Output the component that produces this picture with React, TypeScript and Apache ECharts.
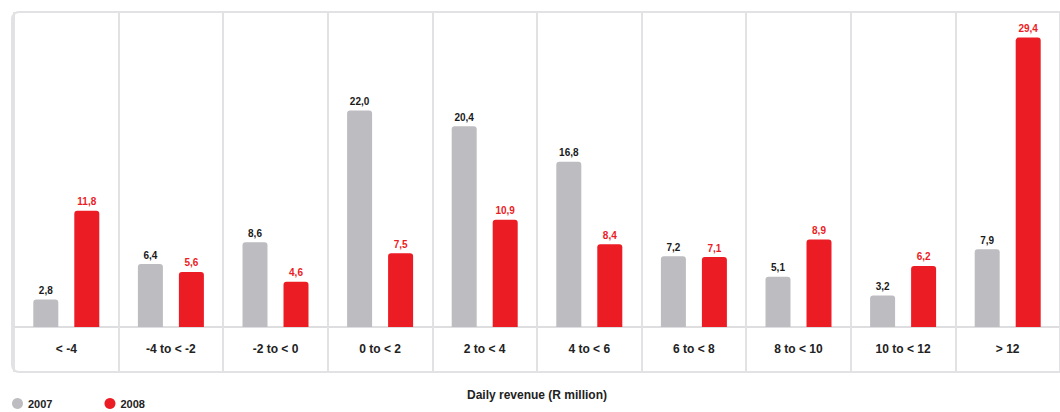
import React, { useEffect, useRef } from "react";
import * as echarts from "echarts";

const categories = ["< -4", "-4 to < -2", "-2 to < 0", "0 to < 2", "2 to < 4", "4 to < 6", "6 to < 8", "8 to < 10", "10 to < 12", "> 12"];
const values2007 = [2.8, 6.4, 8.6, 22.0, 20.4, 16.8, 7.2, 5.1, 3.2, 7.9];
const values2008 = [11.8, 5.6, 4.6, 7.5, 10.9, 8.4, 7.1, 8.9, 6.2, 29.4];
const seriesNames = ["2007", "2008"];
const axisTitle = "Daily revenue (R million)";

const GRAY = "#bdbdc1";
const RED = "#ec1c24";
const FONT = "Liberation Sans";

const fmt = (p: any) => Number(p.value).toFixed(1).replace(".", ",");

export default function App() {
  const ref = useRef<HTMLDivElement>(null);
  useEffect(() => {
    if (!ref.current) return;
    const chart = echarts.init(ref.current, undefined, { renderer: "svg" });
    chart.setOption({
      animation: false,
      textStyle: { fontFamily: FONT },
      grid: { left: 14, right: -11, top: 12, bottom: 85, containLabel: false },
      legend: {
        left: 12,
        top: 398,
        icon: "circle",
        itemWidth: 11,
        itemHeight: 11,
        itemGap: 52,
        padding: 0,
        textStyle: { fontFamily: FONT, fontWeight: "bold", fontSize: 11, lineHeight: 11, color: "#222" },
        data: seriesNames,
      },
      graphic: [
        {
          type: "rect",
          shape: { x: 12, y: 12, width: 1070, height: 360, r: 7 },
          style: { fill: "none", stroke: "#e2e2e4", lineWidth: 2 },
          silent: true,
          z: -1,
        },
      ],
      xAxis: {
        type: "category",
        data: categories,
        name: axisTitle,
        nameLocation: "middle",
        nameGap: 62,
        nameTextStyle: { fontFamily: FONT, fontWeight: "bold", fontSize: 12, color: "#222" },
        axisLine: { show: true, lineStyle: { color: "#dedee0", width: 2 } },
        axisTick: { show: true, length: 45, lineStyle: { color: "#e2e2e4", width: 2 } },
        splitLine: { show: true, lineStyle: { color: "#e2e2e4", width: 2 } },
        axisLabel: { margin: 16, fontFamily: FONT, fontWeight: "bold", fontSize: 12, color: "#222" },
      },
      yAxis: {
        type: "value",
        min: 0,
        max: 32,
        show: false,
        splitLine: { show: false },
      },
      series: [
        {
          name: seriesNames[0],
          type: "bar",
          data: values2007,
          barWidth: 25,
          barGap: "64%",
          itemStyle: { color: GRAY, borderRadius: [3, 3, 0, 0] },
          label: {
            show: true,
            position: "top",
            distance: 4,
            formatter: fmt,
            fontFamily: FONT,
            fontWeight: "bold",
            fontSize: 10,
            color: "#1a1a1a",
          },
        },
        {
          name: seriesNames[1],
          type: "bar",
          data: values2008,
          barWidth: 25,
          itemStyle: { color: RED, borderRadius: [3, 3, 0, 0] },
          label: {
            show: true,
            position: "top",
            distance: 4,
            formatter: fmt,
            fontFamily: FONT,
            fontWeight: "bold",
            fontSize: 10,
            color: RED,
          },
        },
      ],
    });
    return () => chart.dispose();
  }, []);
  return <div ref={ref} style={{ width: 1060, height: 412, position: "absolute", left: 0, top: 0 }} />;
}
